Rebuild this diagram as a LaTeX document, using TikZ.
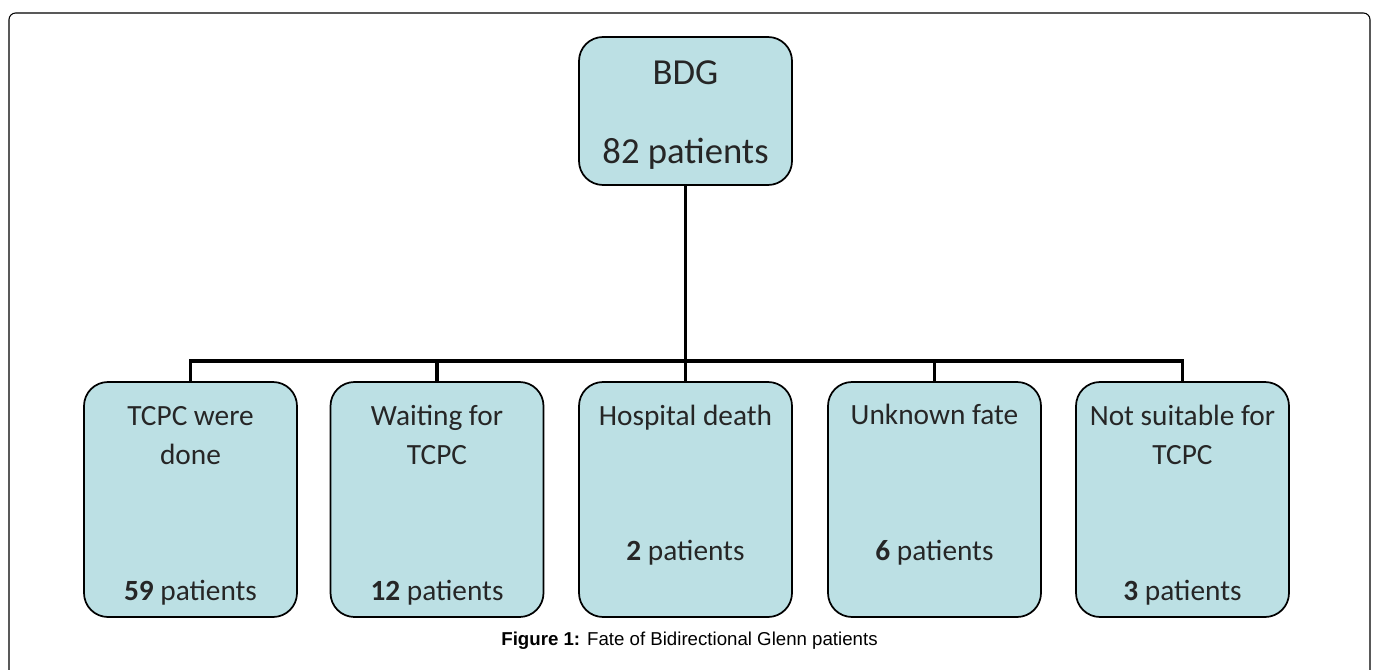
\documentclass[tikz,border=0pt]{standalone}
\usepackage{fontspec}
\setmainfont{Carlito}
\newfontfamily\capfont{Liberation Sans}
\definecolor{boxfill}{HTML}{BCE0E4}
\definecolor{txt}{HTML}{262626}
\begin{document}
\begin{tikzpicture}[x=0.75pt,y=-0.75pt,
  box/.style={draw=black,line width=1.3pt,fill=boxfill,rounded corners=18pt,inner sep=0pt},
  topbox/.style={box,minimum width=213*0.75pt,minimum height=148*0.75pt},
  lowbox/.style={box,minimum width=213*0.75pt,minimum height=235*0.75pt},
  big/.style={anchor=base,inner sep=0pt,text=txt,font=\fontsize{27.5}{33}\selectfont},
  small/.style={anchor=base,inner sep=0pt,text=txt,font=\fontsize{22}{26}\selectfont},
  conn/.style={line width=2.8pt,draw=black}]
\useasboundingbox (0,0) rectangle (1373,670);
% outer frame
\draw[line width=0.8pt,rounded corners=5pt] (9,672) -- (9,13) -- (1370,13) -- (1370,672);
% boxes
\node[topbox] (top) at (685.5,111) {};
\node[lowbox] (b1) at (190.5,499.5) {};
\node[lowbox] (b2) at (437,499.5) {};
\node[lowbox] (b3) at (685.5,499.5) {};
\node[lowbox] (b4) at (934.5,499.5) {};
\node[lowbox] (b5) at (1182.5,499.5) {};
% texts
\node[big] (t0a) at (685.5,85) {BDG};
\node[big] (t0b) at (685.5,164) {82 patients};
\node[small] (t1a) at (190.5,425) {TCPC were};
\node[small] (t1b) at (190.5,464) {done};
\node[small] (t1c) at (190.5,600) {\textbf{59} patients};
\node[small] (t2a) at (437,425) {Waiting for};
\node[small] (t2b) at (437,464) {TCPC};
\node[small] (t2c) at (437,600) {\textbf{12} patients};
\node[small] (t3a) at (685.5,425) {Hospital death};
\node[small] (t3c) at (685.5,560) {\textbf{2} patients};
\node[small] (t4a) at (934.5,424) {Unknown fate};
\node[small] (t4c) at (934.5,560) {\textbf{6} patients};
\node[small] (t5a) at (1182.5,425) {Not suitable for};
\node[small] (t5b) at (1182.5,464) {TCPC};
\node[small] (t5c) at (1182.5,600) {\textbf{3} patients};
% connectors
\coordinate (bus) at (685.5,361);
\draw[conn] (top.south) -- (bus);
\draw[conn] (b1.north) |- (bus) -| (b5.north);
\draw[conn] (b2.north) -- (b2.north |- bus);
\draw[conn] (b3.north) -- (bus);
\draw[conn] (b4.north) -- (b4.north |- bus);
% caption
\node[anchor=base,inner sep=0pt,font=\capfont\fontsize{14}{16}\selectfont] (cap) at (689.5,645) {\textbf{Figure 1:} Fate of Bidirectional Glenn patients};
\end{tikzpicture}
\end{document}
